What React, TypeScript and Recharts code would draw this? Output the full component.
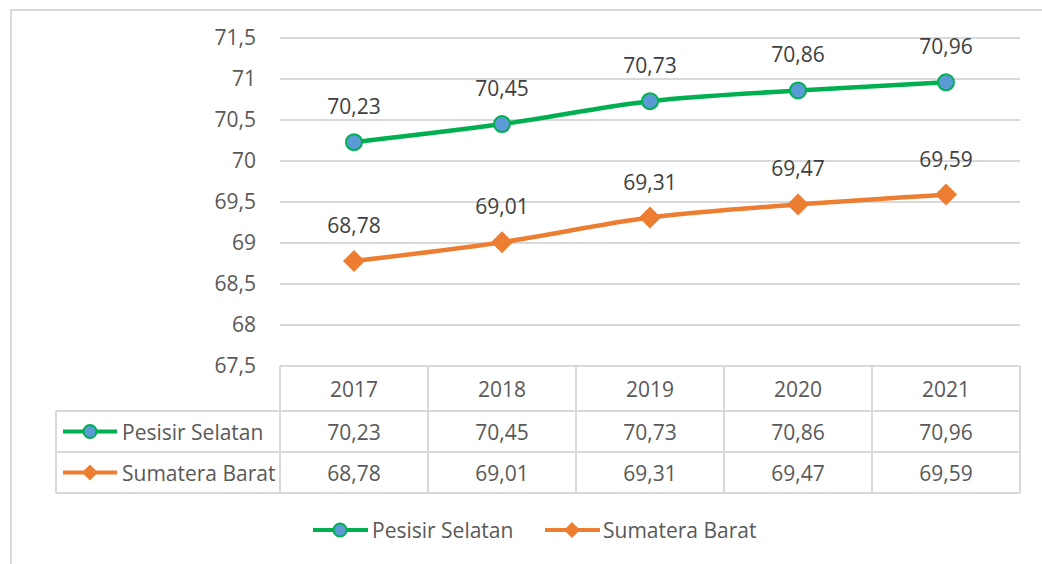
import React from 'react';
import { LineChart, Line, XAxis, YAxis, CartesianGrid, LabelList, Legend } from 'recharts';

const years = ['2017', '2018', '2019', '2020', '2021'];
const pesisirSelatan = [70.23, 70.45, 70.73, 70.86, 70.96];
const sumateraBarat = [68.78, 69.01, 69.31, 69.47, 69.59];
const yTicks = [67.5, 68, 68.5, 69, 69.5, 70, 70.5, 71, 71.5];
const seriesNames = ['Pesisir Selatan', 'Sumatera Barat'];

const GREEN = '#00B050';
const BLUE = '#5B9BD5';
const ORANGE = '#ED7D31';
const GRID = '#D9D9D9';
const TEXT = '#595959';
const FS = 21;

const chartData = years.map((year, i) => ({
  year,
  ps: pesisirSelatan[i],
  sb: sumateraBarat[i],
}));

const fmt = (v: any) => String(v).replace('.', ',');

// marker shapes shared by lines, table and legend
const CircleMark = ({ cx, cy, r = 8 }: any) => (
  <circle cx={cx} cy={cy} r={r} fill={BLUE} stroke={GREEN} strokeWidth={2} />
);
const DiamondMark = ({ cx, cy, h = 11 }: any) => (
  <polygon points={`${cx},${cy - h} ${cx + h},${cy} ${cx},${cy + h} ${cx - h},${cy}`} fill={ORANGE} />
);

const ROW_H = 41;
const HEADER_H = 45;

// data table drawn under each category
const TableTick = (props: any) => {
  const { x, y, index, payload } = props;
  const half = 74;
  const left = x - half;
  const right = x + half;
  const r1 = y + HEADER_H;
  const r2 = r1 + ROW_H;
  const r3 = r2 + ROW_H;
  const i = index ?? payload.index;
  return (
    <g>
      <line x1={left} x2={right} y1={y} y2={y} stroke={GRID} strokeWidth={2} />
      <line x1={left} x2={right} y1={r1} y2={r1} stroke={GRID} strokeWidth={2} />
      <line x1={left} x2={right} y1={r2} y2={r2} stroke={GRID} strokeWidth={2} />
      <line x1={left} x2={right} y1={r3} y2={r3} stroke={GRID} strokeWidth={2} />
      <line x1={left} x2={left} y1={y} y2={r3} stroke={GRID} strokeWidth={2} />
      <line x1={right} x2={right} y1={y} y2={r3} stroke={GRID} strokeWidth={2} />
      <text x={x} y={y + HEADER_H / 2} textAnchor="middle" dominantBaseline="central" fill={TEXT} fontSize={FS}>
        {payload.value}
      </text>
      <text x={x} y={r1 + ROW_H / 2} textAnchor="middle" dominantBaseline="central" fill={TEXT} fontSize={FS}>
        {fmt(pesisirSelatan[i])}
      </text>
      <text x={x} y={r2 + ROW_H / 2} textAnchor="middle" dominantBaseline="central" fill={TEXT} fontSize={FS}>
        {fmt(sumateraBarat[i])}
      </text>
      {i === 0 && (
        <g>
          <line x1={56} x2={left} y1={r1} y2={r1} stroke={GRID} strokeWidth={2} />
          <line x1={56} x2={left} y1={r2} y2={r2} stroke={GRID} strokeWidth={2} />
          <line x1={56} x2={left} y1={r3} y2={r3} stroke={GRID} strokeWidth={2} />
          <line x1={56} x2={56} y1={r1} y2={r3} stroke={GRID} strokeWidth={2} />
          <line x1={63} x2={117} y1={r1 + ROW_H / 2} y2={r1 + ROW_H / 2} stroke={GREEN} strokeWidth={4} />
          <CircleMark cx={90} cy={r1 + ROW_H / 2} r={6.5} />
          <text x={122} y={r1 + ROW_H / 2} dominantBaseline="central" fill={TEXT} fontSize={FS}>
            {seriesNames[0]}
          </text>
          <line x1={63} x2={117} y1={r2 + ROW_H / 2} y2={r2 + ROW_H / 2} stroke={ORANGE} strokeWidth={4} />
          <DiamondMark cx={90} cy={r2 + ROW_H / 2} h={8} />
          <text x={122} y={r2 + ROW_H / 2} dominantBaseline="central" fill={TEXT} fontSize={FS}>
            {seriesNames[1]}
          </text>
        </g>
      )}
    </g>
  );
};

const LegendBox = () => (
  <svg width={1042} height={30}>
    <line x1={313} x2={368} y1={15} y2={15} stroke={GREEN} strokeWidth={4} />
    <CircleMark cx={340} cy={15} r={6.5} />
    <text x={372} y={15} dominantBaseline="central" fill={TEXT} fontSize={FS}>{seriesNames[0]}</text>
    <line x1={545} x2={600} y1={15} y2={15} stroke={ORANGE} strokeWidth={4} />
    <DiamondMark cx={572} cy={15} h={8} />
    <text x={603} y={15} dominantBaseline="central" fill={TEXT} fontSize={FS}>{seriesNames[1]}</text>
  </svg>
);

export default function App() {
  return (
    <div style={{ position: 'absolute', left: 0, top: 0, width: 1042, height: 564, background: '#fff', fontFamily: '"Open Sans", sans-serif', overflow: 'hidden' }}>
      <div style={{ position: 'absolute', left: 10, top: 9, width: 1100, height: 600, borderLeft: `2px solid ${GRID}`, borderTop: `2px solid ${GRID}` }} />
      <LineChart width={1042} height={564} data={chartData} margin={{ top: 38, right: 22, bottom: 40, left: 0 }}>
        <CartesianGrid vertical={false} stroke={GRID} strokeWidth={2} />
        <XAxis
          dataKey="year"
          padding={{ left: 74, right: 74 }}
          axisLine={false}
          tickLine={false}
          tickSize={0}
          tickMargin={0}
          height={128}
          tick={<TableTick />}
          interval={0}
        />
        <YAxis
          domain={[67.5, 71.5]}
          ticks={yTicks}
          width={280}
          axisLine={false}
          tickLine={false}
          tickSize={0}
          tickMargin={24}
          tick={{ fill: TEXT, fontSize: FS }}
          tickFormatter={fmt}
          interval={0}
        />
        <Legend
          content={<LegendBox />}
          wrapperStyle={{ position: 'absolute', left: 0, top: 515, width: 1042, height: 30 }}
        />
        <Line
          dataKey="ps"
          name={seriesNames[0]}
          type="monotone"
          stroke={GREEN}
          strokeWidth={4.5}
          dot={<CircleMark r={8} />}
          activeDot={false}
          isAnimationActive={false}
        >
          <LabelList dataKey="ps" position="top" offset={28} fill="#404040" fontSize={FS} formatter={fmt} />
        </Line>
        <Line
          dataKey="sb"
          name={seriesNames[1]}
          type="monotone"
          stroke={ORANGE}
          strokeWidth={4.5}
          dot={<DiamondMark h={11} />}
          activeDot={false}
          isAnimationActive={false}
        >
          <LabelList dataKey="sb" position="top" offset={28} fill="#404040" fontSize={FS} formatter={fmt} />
        </Line>
      </LineChart>
    </div>
  );
}
